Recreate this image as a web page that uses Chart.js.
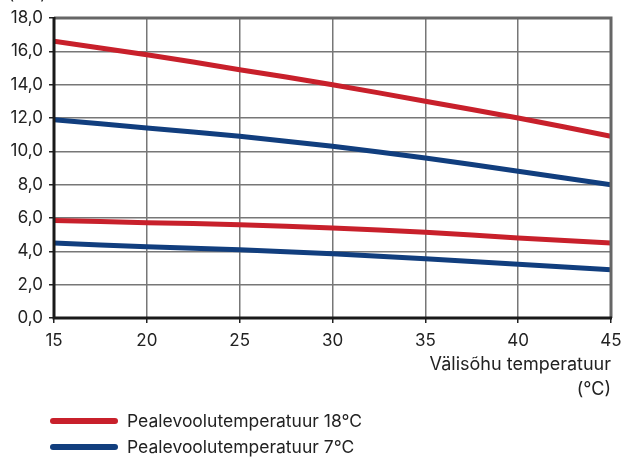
<!DOCTYPE html>
<html>
<head>
<meta charset="utf-8">
<script src="https://cdn.jsdelivr.net/npm/chart.js@4.4.1/dist/chart.umd.min.js"></script>
<style>
    html, body { margin: 0; padding: 0; background: #fff; }
    #wrap { width: 625px; height: 459px; }
</style>
</head>
<body>
<div id="wrap"><canvas id="grafico" width="625" height="459"></canvas></div>
<script>
// datos
const temperaturas = [15, 20, 25, 30, 35, 40, 45];
const rojoAlto = [16.6, 15.8, 14.9, 14.0, 13.0, 12.0, 10.9];
const azulAlto = [11.9, 11.4, 10.9, 10.3, 9.6, 8.8, 8.0];
const rojoBajo = [5.85, 5.72, 5.6, 5.4, 5.15, 4.8, 4.5];
const azulBajo = [4.5, 4.27, 4.1, 3.85, 3.55, 3.22, 2.9];
const etiquetasLeyenda = ['Pealevoolutemperatuur 18°C', 'Pealevoolutemperatuur 7°C'];
const tituloX = ['Välisõhu temperatuur', '(°C)'];
const unidadY = '(kW)';

const ROJO = '#c8202b';
const AZUL = '#113e7e';
const FUENTE = 'Inter, "Noto Sans", sans-serif';

function serie(valores, color) {
    return {
        data: temperaturas.map((t, i) => ({ x: t, y: valores[i] })),
        borderColor: color,
        borderWidth: 5,
        pointRadius: 0,
        tension: 0.3,
        fill: false
    };
}

const extras = {
    id: 'extras',
    afterDraw(chart) {
        const ctx = chart.ctx;
        const a = chart.chartArea;
        ctx.save();
        // borde superior y derecho
        ctx.strokeStyle = '#666';
        ctx.lineWidth = 3;
        ctx.beginPath();
        ctx.moveTo(a.left, a.top);
        ctx.lineTo(a.right, a.top);
        ctx.lineTo(a.right, a.bottom);
        ctx.stroke();
        // ejes
        ctx.strokeStyle = '#1a1a1a';
        ctx.beginPath();
        ctx.moveTo(a.left, a.top - 1);
        ctx.lineTo(a.left, a.bottom);
        ctx.lineTo(a.right + 1, a.bottom);
        ctx.stroke();
        // unidad
        ctx.fillStyle = '#222';
        ctx.font = '17px ' + FUENTE;
        ctx.textAlign = 'left';
        ctx.textBaseline = 'alphabetic';
        ctx.fillText(unidadY, 8, -1);
        // leyenda
        const colores = [ROJO, AZUL];
        const filas = [421, 447];
        ctx.lineCap = 'round';
        ctx.lineWidth = 6;
        ctx.font = '17.5px ' + FUENTE;
        ctx.textBaseline = 'middle';
        etiquetasLeyenda.forEach((txt, i) => {
            ctx.strokeStyle = colores[i];
            ctx.beginPath();
            ctx.moveTo(53, filas[i]);
            ctx.lineTo(115, filas[i]);
            ctx.stroke();
            ctx.fillStyle = '#222';
            ctx.fillText(txt, 127, filas[i] + 1);
        });
        ctx.restore();
    }
};

new Chart(document.getElementById('grafico').getContext('2d'), {
    type: 'line',
    data: {
        datasets: [
            serie(rojoAlto, ROJO),
            serie(azulAlto, AZUL),
            serie(rojoBajo, ROJO),
            serie(azulBajo, AZUL)
        ]
    },
    options: {
        responsive: false,
        animation: false,
        layout: { padding: { top: 18, right: 14, bottom: 0, left: 0 } },
        plugins: { legend: { display: false }, tooltip: { enabled: false } },
        scales: {
            x: {
                type: 'linear',
                min: 15,
                max: 45,
                ticks: { stepSize: 5, color: '#222', font: { family: FUENTE, size: 17 }, padding: 8 },
                grid: { color: '#777', lineWidth: 1.5, tickLength: 5, tickColor: '#222' },
                border: { display: false },
                title: {
                    display: true,
                    text: tituloX,
                    align: 'end',
                    color: '#222',
                    font: { family: FUENTE, size: 18, lineHeight: 1.4 },
                    padding: { top: 2, bottom: 57 }
                },
                afterFit(scale) {
                    scale.height = 141;
                    scale.paddingLeft = 0;
                    scale.paddingRight = 0;
                }
            },
            y: {
                min: 0,
                max: 18,
                ticks: {
                    stepSize: 2,
                    color: '#222',
                    font: { family: FUENTE, size: 17 },
                    padding: 6,
                    callback: v => v.toFixed(1).replace('.', ',')
                },
                grid: { color: '#777', lineWidth: 1.5, tickLength: 5, tickColor: '#222' },
                border: { display: false },
                afterFit(scale) { scale.width = 54; }
            }
        }
    },
    plugins: [extras]
});
</script>
</body>
</html>
